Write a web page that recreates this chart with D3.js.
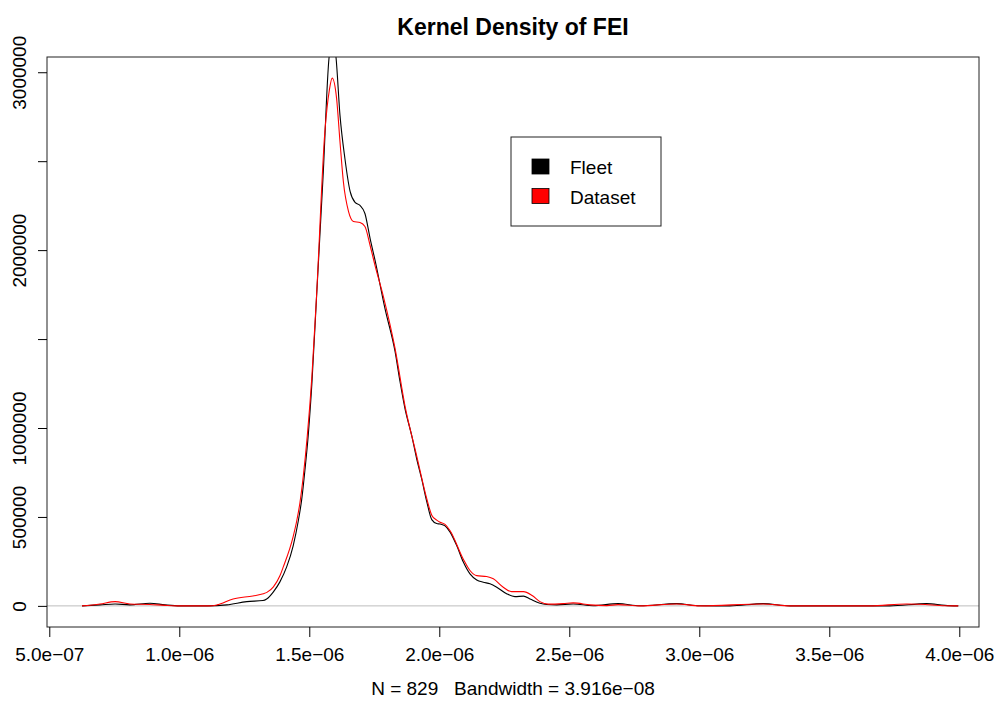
<!DOCTYPE html>
<html>
<head>
<meta charset="utf-8">
<script src="https://cdn.jsdelivr.net/npm/d3@7"></script>
<style>
  body { margin: 0; background: #fff; }
  svg { display: block; font-family: "Liberation Sans", Arial, Helvetica, sans-serif; }
</style>
</head>
<body>
<svg id="chart" width="1002" height="707"></svg>
<script>
// ---- data ----
const titleText = "Kernel Density of FEI";
const xLabelText = "N = 829   Bandwidth = 3.916e\u221208";
const seriesNames = ["Fleet", "Dataset"];
const seriesColors = ["#000000", "#FF0000"];

// FEI values (x, in units of 1e-6) and density (y) for the Fleet curve
const fleetX = [0.626, 0.695, 0.753, 0.810, 0.887, 0.945, 1.003, 1.107, 1.183, 1.260, 1.322, 1.336, 1.362, 1.387, 1.413, 1.438, 1.458, 1.471, 1.483, 1.496, 1.510, 1.528, 1.553, 1.577, 1.591, 1.602, 1.618, 1.637, 1.657, 1.676, 1.695, 1.714, 1.734, 1.753, 1.791, 1.830, 1.849, 1.868, 1.894, 1.913, 1.932, 1.952, 1.971, 1.990, 2.003, 2.022, 2.041, 2.067, 2.092, 2.118, 2.144, 2.169, 2.195, 2.221, 2.259, 2.291, 2.324, 2.349, 2.387, 2.413, 2.452, 2.515, 2.592, 2.688, 2.772, 2.913, 3.003, 3.118, 3.246, 3.349, 3.580, 3.733, 3.875, 3.945, 3.996].map(v => v * 1e-6);
const fleetY = [0, 5600, 11000, 5600, 15000, 5600, 0, 0, 5600, 24000, 30000, 39000, 79000, 135000, 219000, 338000, 480000, 600000, 760000, 960000, 1250000, 1739000, 2414000, 3095000, 3170000, 3095000, 2759000, 2515000, 2330000, 2268000, 2251000, 2206000, 2065000, 1942000, 1672000, 1429000, 1260000, 1109000, 957000, 827000, 715000, 585000, 485000, 463000, 460000, 450000, 416000, 339000, 248000, 180000, 146000, 133000, 124000, 105000, 68000, 52000, 55000, 39000, 15000, 8000, 5600, 11000, 1000, 13000, 500, 13000, 500, 0, 13000, 0, 0, 0, 13000, 3000, 0];

// FEI values (x, in units of 1e-6) and density (y) for the Dataset curve
const datasetX = [0.626, 0.695, 0.753, 0.810, 0.887, 0.945, 1.003, 1.118, 1.145, 1.207, 1.283, 1.323, 1.337, 1.362, 1.387, 1.400, 1.438, 1.452, 1.464, 1.477, 1.492, 1.510, 1.528, 1.560, 1.577, 1.588, 1.605, 1.618, 1.631, 1.651, 1.670, 1.695, 1.714, 1.734, 1.753, 1.785, 1.830, 1.868, 1.913, 1.952, 1.971, 1.990, 2.003, 2.022, 2.041, 2.092, 2.118, 2.144, 2.182, 2.208, 2.246, 2.278, 2.324, 2.357, 2.387, 2.419, 2.477, 2.515, 2.580, 2.644, 2.688, 2.772, 2.913, 3.003, 3.246, 3.349, 3.656, 3.798, 3.849, 3.945, 3.996].map(v => v * 1e-6);
const datasetY = [0, 11000, 24000, 11000, 8000, 3000, 0, 0, 5600, 39000, 56000, 68000, 76000, 107000, 169000, 219000, 390000, 480000, 580000, 730000, 950000, 1290000, 1745000, 2667000, 2898000, 2967000, 2853000, 2611000, 2386000, 2217000, 2161000, 2155000, 2133000, 2026000, 1913000, 1739000, 1446000, 1125000, 844000, 602000, 510000, 482000, 470000, 458000, 424000, 264000, 199000, 170000, 165000, 152000, 105000, 80000, 80000, 58000, 24000, 10000, 13000, 17000, 5600, 1700, 7000, 0, 11000, 0, 11000, 0, 0, 11000, 9600, 1000, 0];

const xTicks = [5.0e-7, 1.0e-6, 1.5e-6, 2.0e-6, 2.5e-6, 3.0e-6, 3.5e-6, 4.0e-6];
const yTicks = [0, 500000, 1000000, 1500000, 2000000, 2500000, 3000000];
const yTickLabels = ["0", "500000", "1000000", "", "2000000", "", "3000000"];

// ---- layout ----
const W = 1002, H = 707;
const margin = { left: 47, right: 23, top: 57, bottom: 80 };
const pw = W - margin.left - margin.right;
const ph = H - margin.top - margin.bottom;
const fontSize = 19;

const svg = d3.select("#chart");
const g = svg.append("g").attr("transform", `translate(${margin.left},${margin.top})`);

// x limits: R-style extension around the density support
const xLim = [4.912e-7, 4.0758e-6];
const x = d3.scaleLinear().domain(xLim).range([0, pw]);
const yMax = d3.max(datasetY);
const y = d3.scaleLinear().domain([-0.04 * yMax, 1.04 * yMax]).range([ph, 0]);

// clip
svg.append("defs").append("clipPath").attr("id", "plotclip")
  .append("rect").attr("x", 0).attr("y", 0).attr("width", pw).attr("height", ph);

// zero reference line
g.append("line")
  .attr("clip-path", "url(#plotclip)")
  .attr("x1", 0).attr("x2", pw)
  .attr("y1", y(0)).attr("y2", y(0))
  .attr("stroke", "#BEBEBE").attr("stroke-width", 1);

// curves
const line = d3.line().x(d => x(d[0])).y(d => y(d[1])).curve(d3.curveMonotoneX);
const fleetData = fleetX.map((v, i) => [v, fleetY[i]]);
const datasetData = datasetX.map((v, i) => [v, datasetY[i]]);
const cg = g.append("g").attr("clip-path", "url(#plotclip)");
cg.append("path").datum(fleetData).attr("d", line)
  .attr("fill", "none").attr("stroke", seriesColors[0]).attr("stroke-width", 1.1);
cg.append("path").datum(datasetData).attr("d", line)
  .attr("fill", "none").attr("stroke", seriesColors[1]).attr("stroke-width", 1.1);

// box
g.append("rect").attr("x", 0).attr("y", 0).attr("width", pw).attr("height", ph)
  .attr("fill", "none").attr("stroke", "#222").attr("stroke-width", 1);

// axes
function fmtSci(v) {
  const s = d3.format(".1e")(v); // e.g. 5.0e-7
  const m = s.match(/^([\d.]+)e([+-])(\d+)$/);
  const exp = m[3].padStart(2, "0");
  return m[1] + "e" + (m[2] === "-" ? "\u2212" : "+") + exp;
}
const xAxis = d3.axisBottom(x).tickValues(xTicks).tickFormat(fmtSci).tickSize(10).tickPadding(11);
const xg = g.append("g").attr("transform", `translate(0,${ph})`).call(xAxis);
xg.select(".domain").remove();
xg.selectAll("text").attr("font-size", fontSize).attr("font-family", "Liberation Sans, Arial, sans-serif").attr("fill", "#000");
xg.selectAll("line").attr("stroke", "#000");

const yAxis = d3.axisLeft(y).tickValues(yTicks).tickFormat((d, i) => yTickLabels[i]).tickSize(9);
const yg = g.append("g").call(yAxis);
yg.select(".domain").remove();
yg.selectAll("line").attr("stroke", "#000");
yg.selectAll("text")
  .attr("font-size", fontSize).attr("font-family", "Liberation Sans, Arial, sans-serif").attr("fill", "#000")
  .attr("text-anchor", "middle")
  .attr("x", null).attr("dy", null)
  .attr("transform", "translate(-21,0) rotate(-90)");

// title
svg.append("text").attr("x", margin.left + pw / 2).attr("y", 35)
  .attr("text-anchor", "middle").attr("font-size", 23).attr("font-weight", "bold")
  .text(titleText);

// x label
svg.append("text").attr("x", margin.left + pw / 2).attr("y", 695)
  .attr("text-anchor", "middle").attr("font-size", fontSize)
  .style("white-space", "pre").attr("xml:space", "preserve")
  .text(xLabelText);

// legend
const lg = svg.append("g").attr("transform", "translate(511,137)");
lg.append("rect").attr("x", 0).attr("y", 0).attr("width", 150).attr("height", 89)
  .attr("fill", "#fff").attr("stroke", "#222").attr("stroke-width", 1);
seriesNames.forEach((name, i) => {
  const cy = 30 + i * 29.5;
  lg.append("rect").attr("x", 21).attr("y", cy - 8).attr("width", 17).attr("height", 15)
    .attr("fill", seriesColors[i]).attr("stroke", "#000").attr("stroke-width", 0.8);
  lg.append("text").attr("x", 59).attr("y", cy + 7)
    .attr("font-size", fontSize).text(name);
});
</script>
</body>
</html>
